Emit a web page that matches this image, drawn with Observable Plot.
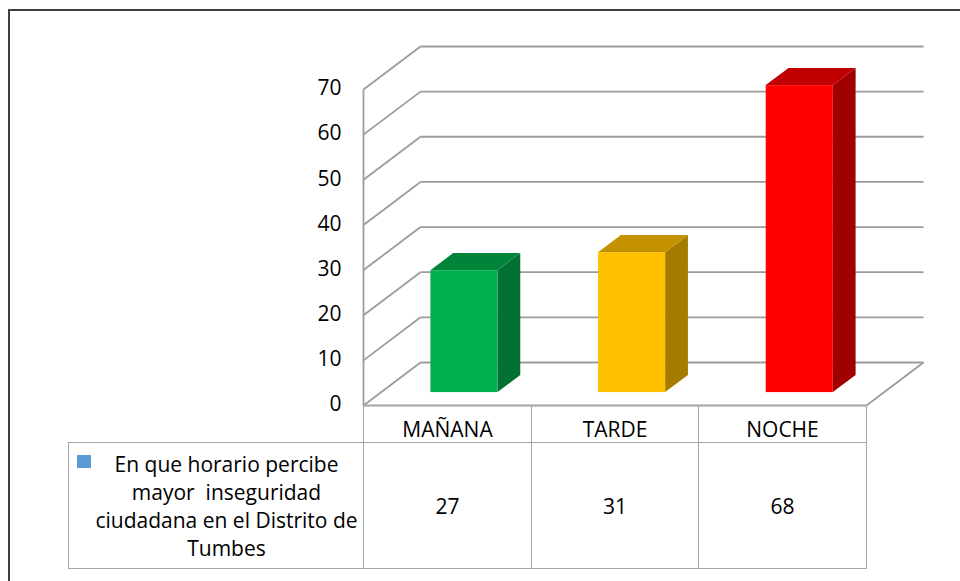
<!DOCTYPE html>
<html><head><meta charset="utf-8">
<script src="https://cdn.jsdelivr.net/npm/d3@7"></script>
<script src="https://cdn.jsdelivr.net/npm/@observablehq/plot@0.6"></script>
<style>
body{margin:0;background:#fff;font-family:"Open Sans",sans-serif;}
#wrap{position:relative;width:960px;height:581px;overflow:hidden;background:#fff;}
#chart{position:absolute;left:0;top:0;}
#frame{position:absolute;left:8px;top:9px;right:-4px;bottom:-4px;border-top:2px solid #404040;border-left:2px solid #404040;pointer-events:none;}
.cell{position:absolute;box-sizing:border-box;border:1px solid #a6a6a6;display:flex;align-items:center;justify-content:center;font-size:21px;line-height:28px;color:#000;text-align:center;white-space:pre;}
.key{position:absolute;left:8px;top:12px;width:14px;height:13px;}
</style></head>
<body><div id="wrap"><div id="chart"></div><div id="tbl"></div><div id="frame"></div></div>
<script>
const categories = ["MAÑANA", "TARDE", "NOCHE"];
const values = [27, 31, 68];
const yTicks = [0, 10, 20, 30, 40, 50, 60, 70];
const seriesLabel = ["En que horario percibe", "mayor  inseguridad", "ciudadana en el Distrito de", "Tumbes"];
const frontColors = ["#00B050", "#FFC000", "#FF0000"];
const sideColors = ["#007033", "#A67C00", "#A00000"];
const topColors = ["#00843A", "#C49200", "#C00000"];
const legendColor = "#5B9BD5";
const gridColor = "#9c9c9c";

// oblique 3D projection: depth w in [0,1] shifts right (slot units) and up (value units)
const DX = 0.34, DY = 9.53;
const P = (u, v, w) => ({x: u + w * DX, y: v + w * DY});
const nCat = categories.length;
const yMax = yTicks[yTicks.length - 1];

const segs = [];
for (const t of yTicks) {
  const a = P(0, t, 1), b = P(nCat, t, 1);
  segs.push({x1: a.x, y1: a.y, x2: b.x, y2: b.y});
  const c = P(0, t, 0);
  segs.push({x1: c.x, y1: c.y, x2: a.x, y2: a.y});
}
{
  const a = P(0, 0, 0), b = P(0, yMax, 0), c = P(nCat, 0, 0), d = P(nCat, 0, 1);
  segs.push({x1: a.x, y1: a.y, x2: b.x, y2: b.y});
  segs.push({x1: a.x, y1: a.y, x2: c.x, y2: c.y});
  segs.push({x1: c.x, y1: c.y, x2: d.x, y2: d.y});
}

const w0 = 0.3, w1 = 0.7, bw = 0.2;
const fronts = [], sides = [], tops = [];
categories.forEach((cat, i) => {
  const v = values[i], u0 = i + 0.5 - bw, u1 = i + 0.5 + bw;
  const f0 = P(u0, 0, w0), f1 = P(u1, v, w0);
  fronts.push({cat, x1: f0.x, x2: f1.x, y1: f0.y, y2: f1.y, fill: frontColors[i]});
  for (const w of [w0, w1]) {
    const lo = P(u1, 0, w), hi = P(u1, v, w);
    sides.push({cat, x: lo.x, y1: lo.y, y2: hi.y, fill: sideColors[i]});
    const l = P(u0, v, w), r = P(u1, v, w);
    tops.push({cat, y: l.y, x1: l.x, x2: r.x, fill: topColors[i]});
  }
});

const plot = Plot.plot({
  width: 960,
  height: 581,
  margin: 0,
  style: {background: "transparent", fontFamily: "Open Sans, sans-serif"},
  x: {type: "linear", domain: [0, nCat], range: [363, 866], axis: null},
  y: {type: "linear", domain: [0, yMax], range: [405, 89], axis: null},
  color: {type: "identity"},
  marks: [
    Plot.link(segs, {x1: "x1", y1: "y1", x2: "x2", y2: "y2", stroke: gridColor, strokeWidth: 1.8}),
    Plot.areaY(sides, {x: "x", y1: "y1", y2: "y2", z: "cat", fill: "fill"}),
    Plot.areaX(tops, {y: "y", x1: "x1", x2: "x2", z: "cat", fill: "fill"}),
    Plot.rect(fronts, {x1: "x1", x2: "x2", y1: "y1", y2: "y2", fill: "fill"}),
    Plot.text(yTicks, {x: () => 0, y: d => d, text: d => String(d), textAnchor: "end", dx: -22, dy: -1, fontSize: 21, fill: "#000"})
  ]
});
document.getElementById("chart").appendChild(plot);

// data table below the chart
const tbl = document.getElementById("tbl");
const x = plot.scale("x");
const colEdges = d3.range(nCat + 1).map(i => Math.round(x.apply(i)));
const addCell = (left, top, w, h, html, extra) => {
  const d = document.createElement("div");
  d.className = "cell";
  d.style.left = left + "px"; d.style.top = top + "px";
  d.style.width = w + "px"; d.style.height = h + "px";
  if (extra) Object.assign(d.style, extra);
  d.textContent = html;
  tbl.appendChild(d);
  return d;
};
const headTop = 405, rowTop = 442, rowBottom = 569;
categories.forEach((c, i) => {
  addCell(colEdges[i], headTop, colEdges[i + 1] - colEdges[i] + 1, rowTop - headTop + 1, c, {paddingTop: "10px"});
  addCell(colEdges[i], rowTop, colEdges[i + 1] - colEdges[i] + 1, rowBottom - rowTop, String(values[i]));
});
const lab = addCell(68, rowTop, colEdges[0] - 68 + 1, rowBottom - rowTop, seriesLabel.join("\n"), {paddingLeft: "21px"});
const key = document.createElement("div");
key.className = "key";
key.style.background = legendColor;
lab.appendChild(key);
</script>
</body></html>
